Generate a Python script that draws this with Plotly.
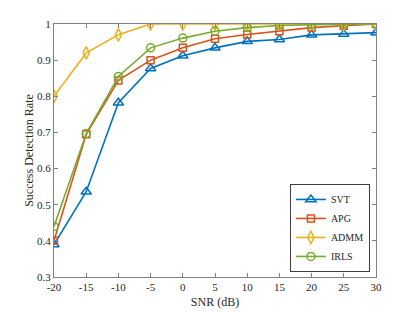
import plotly.graph_objects as go

snr = [-20, -15, -10, -5, 0, 5, 10, 15, 20, 25, 30]
snr_labels = ["-20", "-15", "-10", "-5", "0", "5", "10", "15", "20", "25", "30"]
rate_ticks = [0.3, 0.4, 0.5, 0.6, 0.7, 0.8, 0.9, 1.0]
rate_labels = ["0.3", "0.4", "0.5", "0.6", "0.7", "0.8", "0.9", "1"]
svt = [0.39, 0.536, 0.782, 0.877, 0.912, 0.934, 0.952, 0.957, 0.970, 0.972, 0.976]
apg = [0.40, 0.695, 0.844, 0.900, 0.934, 0.959, 0.971, 0.980, 0.990, 0.995, 1.0]
admm = [0.80, 0.92, 0.97, 1.0, 1.0, 1.0, 1.0, 1.0, 1.0, 1.0, 1.0]
irls = [0.44, 0.697, 0.855, 0.934, 0.961, 0.980, 0.990, 0.996, 0.998, 0.999, 1.0]

series = [
    ("SVT", svt, "#0072BD", "triangle-up-open", 9),
    ("APG", apg, "#D95319", "square-open", 7),
    ("ADMM", admm, "#EDB120", "diamond-tall-open", 9),
    ("IRLS", irls, "#77AC30", "circle-open", 8),
]

fig = go.Figure()
for name, ys, col, sym, sz in series:
    fig.add_trace(go.Scatter(
        x=snr, y=ys, name=name, mode="lines+markers",
        line=dict(color=col, width=1.6),
        marker=dict(symbol=sym, size=sz, color=col, line=dict(color=col, width=1.5)),
    ))

axis_common = dict(
    showgrid=False, zeroline=False, showline=True, linecolor="#808080", linewidth=1,
    mirror="ticks", ticks="inside", ticklen=4, tickcolor="#808080", automargin=False,
    tickfont=dict(family="Liberation Serif", size=11, color="#262626"),
)

# page body has an 8px default margin, so the figure is sized to fit the 415x312 window
fig.update_layout(
    width=407, height=304,
    margin=dict(l=46, r=39, t=16, b=35),
    paper_bgcolor="white", plot_bgcolor="white",
    font=dict(family="Liberation Serif", color="#262626"),
    showlegend=True,
    legend=dict(
        x=0.981, y=0.02, xanchor="right", yanchor="bottom",
        bordercolor="#404040", borderwidth=1, bgcolor="white",
        font=dict(family="Liberation Serif", size=10, color="#262626"),
        tracegroupgap=0, itemwidth=30,
    ),
    xaxis=dict(range=[-20, 30], tickvals=snr, ticktext=snr_labels,
               title=dict(text="SNR (dB)", font=dict(size=12), standoff=5), **axis_common),
    yaxis=dict(range=[0.3, 1.0], tickvals=rate_ticks, ticktext=rate_labels,
               title=dict(text="Success Detection Rate", font=dict(size=12), standoff=0), **axis_common),
)

fig.write_html("out.html")
